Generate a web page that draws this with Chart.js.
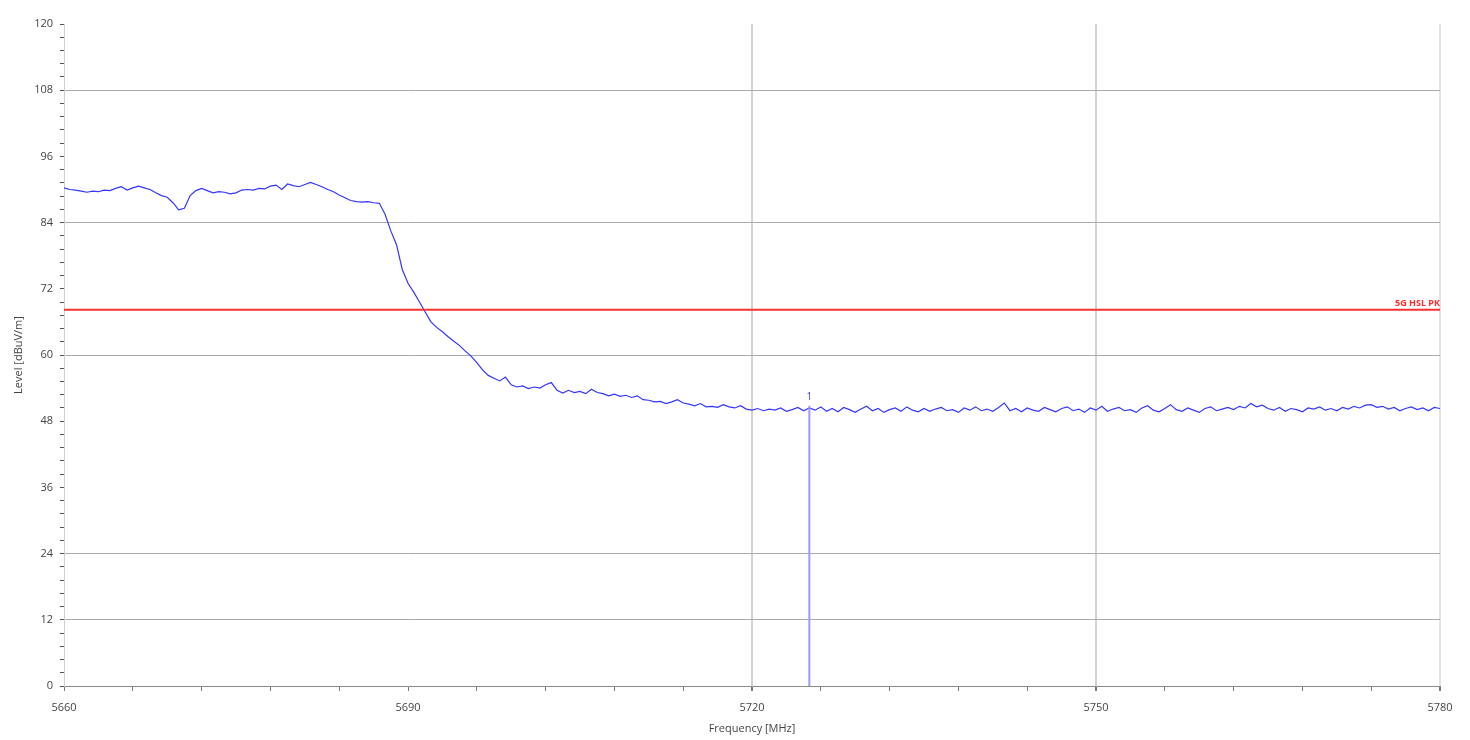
<!DOCTYPE html>
<html><head><meta charset="utf-8">
<script src="https://cdn.jsdelivr.net/npm/chart.js@4.4.0/dist/chart.umd.min.js"></script>
<style>html,body{margin:0;padding:0;background:#fff;} #wrap{width:1470px;height:740px;}</style>
</head><body><div id="wrap"><canvas id="c" width="1470" height="740"></canvas></div>
<script>
const sweepStartMHz = 5660;
const sweepStepMHz = 0.5;
const levelDbuvm = [
  90.3, 90.0, 89.9, 89.7, 89.5, 89.7, 89.6, 89.9, 89.8, 90.2,
  90.5, 89.9, 90.3, 90.6, 90.3, 90.0, 89.4, 88.9, 88.6, 87.6,
  86.3, 86.6, 88.9, 89.8, 90.2, 89.8, 89.4, 89.6, 89.5, 89.2,
  89.4, 89.9, 90.0, 89.9, 90.2, 90.1, 90.6, 90.8, 90.0, 91.0,
  90.7, 90.5, 90.9, 91.3, 90.9, 90.5, 90.0, 89.6, 89.0, 88.5,
  88.0, 87.8, 87.7, 87.8, 87.6, 87.5, 85.5, 82.5, 80.0, 75.5,
  73.0, 71.4, 69.6, 67.8, 66.0, 65.0, 64.2, 63.3, 62.5, 61.7,
  60.7, 59.8, 58.6, 57.3, 56.3, 55.8, 55.3, 56.0, 54.6, 54.2,
  54.4, 53.9, 54.2, 54.0, 54.6, 55.0, 53.6, 53.1, 53.6, 53.2,
  53.4, 53.0, 53.8, 53.2, 53.0, 52.6, 52.9, 52.5, 52.7, 52.3,
  52.6, 51.9, 51.8, 51.5, 51.6, 51.2, 51.5, 51.9, 51.3, 51.1,
  50.8, 51.2, 50.6, 50.7, 50.5, 51.0, 50.6, 50.4, 50.8, 50.2,
  50.0, 50.3, 49.9, 50.2, 50.0, 50.4, 49.8, 50.1, 50.5, 49.9, 50.4,
  50.0, 50.6, 49.8, 50.3, 49.7, 50.5, 50.1, 49.6, 50.2, 50.7,
  49.9, 50.3, 49.6, 50.1, 50.4, 49.8, 50.6, 50.0, 49.7, 50.3,
  49.8, 50.2, 50.5, 49.9, 50.1, 49.6, 50.4, 50.0, 50.6, 49.9,
  50.2, 49.8, 50.5, 51.3, 49.9, 50.3, 49.7, 50.4, 50.0, 49.8,
  50.5, 50.1, 49.7, 50.3, 50.6, 49.9, 50.2, 49.6, 50.4, 50.0,
  50.7, 49.8, 50.2, 50.5, 49.9, 50.1, 49.6, 50.4, 50.8, 50.0,
  49.7, 50.3, 51.0, 50.1, 49.8, 50.4, 50.0, 49.6, 50.3, 50.6,
  49.9, 50.2, 50.5, 50.1, 50.7, 50.4, 51.2, 50.6, 50.9, 50.3,
  50.0, 50.5, 49.8, 50.3, 50.1, 49.7, 50.4, 50.2, 50.6, 50.0,
  50.3, 49.9, 50.5, 50.2, 50.7, 50.4, 50.9, 51.0, 50.5, 50.7,
  50.2, 50.5, 49.9, 50.3, 50.6, 50.1, 50.4, 49.9, 50.5, 50.3
];
const limitFreqs = [5660, 5780];
const limitLevel = 68.2;
const limitLabel = '5G HSL PK';
const markerFreq = 5725;
const markerLevel = 50.8;
const markerLabel = '1';
const xTickLabels = [5660, 5690, 5720, 5750, 5780];
const yTickLabels = [0, 12, 24, 36, 48, 60, 72, 84, 96, 108, 120];
const yGridValues = [12, 24, 60, 84, 108];
const xGridValues = [5720, 5750, 5780];
const minorPerMajor = 5;

const tracePts = levelDbuvm.map((v, i) => ({x: sweepStartMHz + i * sweepStepMHz, y: v}));
const limitPts = limitFreqs.map(f => ({x: f, y: limitLevel}));
const markerPts = [{x: markerFreq, y: 0}, {x: markerFreq, y: markerLevel}];

function withMinors(majors) {
  const out = [];
  for (let i = 0; i < majors.length - 1; i++) {
    const a = majors[i], b = majors[i + 1];
    for (let k = 0; k < minorPerMajor; k++) out.push({value: Math.round((a + (b - a) * k / minorPerMajor) * 100) / 100});
  }
  out.push({value: majors[majors.length - 1]});
  return out;
}
const isIn = (arr, v) => arr.some(a => Math.abs(a - v) < 1e-6);

const FONT = "'Open Sans', 'DejaVu Sans', sans-serif";

const labelPlugin = {
  id: 'labels',
  afterDatasetsDraw(chart) {
    const {ctx, scales: {x, y}} = chart;
    ctx.save();
    ctx.fillStyle = '#ff2a2a';
    ctx.font = 'bold 9px ' + FONT;
    ctx.textAlign = 'right';
    ctx.textBaseline = 'bottom';
    ctx.fillText(limitLabel, x.getPixelForValue(limitFreqs[1]), y.getPixelForValue(limitLevel) - 2);
    ctx.fillStyle = '#3a3aff';
    ctx.font = '10px ' + FONT;
    ctx.textAlign = 'center';
    ctx.fillText(markerLabel, x.getPixelForValue(markerFreq), y.getPixelForValue(markerLevel) - 4);
    ctx.restore();
  }
};

new Chart(document.getElementById('c'), {
  type: 'scatter',
  data: {
    datasets: [
      {data: markerPts, showLine: true, borderColor: '#9a9aff', borderWidth: 2, pointRadius: 0},
      {data: limitPts, showLine: true, borderColor: '#ff3030', borderWidth: 2, pointRadius: 0},
      {data: tracePts, showLine: true, borderColor: '#3535ff', borderWidth: 1.2, pointRadius: 0, tension: 0}
    ]
  },
  options: {
    responsive: false,
    animation: false,
    devicePixelRatio: 1,
    layout: {padding: {left: 0, right: 30, top: 24, bottom: 0}},
    plugins: {legend: {display: false}, tooltip: {enabled: false}},
    scales: {
      x: {
        type: 'linear', min: xTickLabels[0], max: xTickLabels[xTickLabels.length - 1],
        afterBuildTicks: s => { s.ticks = withMinors(xTickLabels); },
        afterFit: s => { s.height = 54; },
        ticks: {autoSkip: false, maxRotation: 0, padding: 10, color: '#444', font: {family: FONT, size: 11},
          callback: v => isIn(xTickLabels, v) ? String(v) : ''},
        grid: {
          color: c => isIn(xGridValues, c.tick.value) ? (c.tick.value === 5780 ? '#e4e4e4' : '#d2d2d2') : 'rgba(0,0,0,0)',
          lineWidth: c => isIn(xGridValues, c.tick.value) ? 2 : 1,
          tickColor: '#777', tickLength: 5, drawOnChartArea: true
        },
        border: {color: '#8a8a8a', width: 1},
        title: {display: true, text: 'Frequency [MHz]', color: '#444', font: {family: FONT, size: 11}, padding: {top: 0, bottom: 5}}
      },
      y: {
        type: 'linear', min: yTickLabels[0], max: yTickLabels[yTickLabels.length - 1],
        afterBuildTicks: s => { s.ticks = withMinors(yTickLabels); },
        afterFit: s => { s.width = 64; },
        ticks: {autoSkip: false, padding: 7, color: '#444', font: {family: FONT, size: 11},
          callback: v => isIn(yTickLabels, v) ? String(v) : ''},
        grid: {
          color: c => isIn(yGridValues, c.tick.value) ? '#aaaaaa' : 'rgba(0,0,0,0)',
          tickColor: '#555', tickLength: 4, drawOnChartArea: true
        },
        border: {color: '#cfcfcf', width: 1},
        title: {display: true, text: 'Level [dBuV/m]', color: '#444', font: {family: FONT, size: 11}, padding: {top: 12, bottom: 0}}
      }
    }
  },
  plugins: [labelPlugin]
});
</script></body></html>
